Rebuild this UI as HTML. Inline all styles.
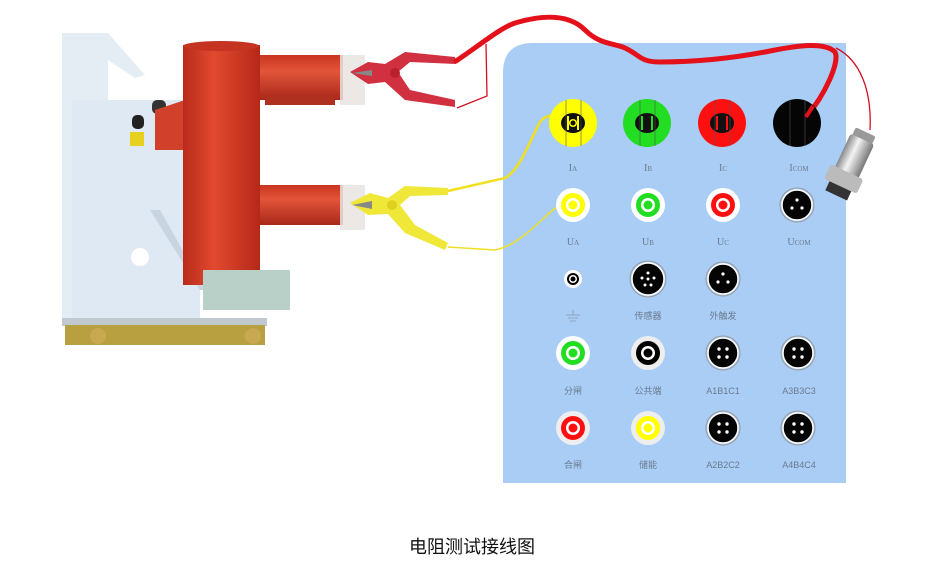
<!DOCTYPE html>
<html><head><meta charset="utf-8"><style>
html,body{margin:0;padding:0;background:#fff;width:940px;height:566px;overflow:hidden}
svg{display:block}
.l{font-family:"Liberation Serif","Noto Serif CJK SC",serif;font-size:10px;fill:#6a7a90;text-anchor:middle}
.c{font-family:"Liberation Sans","Noto Sans CJK SC",sans-serif;font-size:9px;fill:#6a7a90;text-anchor:middle}
</style></head><body>
<svg width="940" height="566" viewBox="0 0 940 566" xmlns="http://www.w3.org/2000/svg">
<defs>
<linearGradient id="red" x1="0" x2="1"><stop offset="0" stop-color="#b82a1a"/><stop offset=".4" stop-color="#e24a30"/><stop offset="1" stop-color="#b52818"/></linearGradient>
<linearGradient id="redh" x1="0" y1="0" x2="0" y2="1"><stop offset="0" stop-color="#c83420"/><stop offset=".35" stop-color="#e2553a"/><stop offset="1" stop-color="#a8281a"/></linearGradient>
<linearGradient id="met" x1="0" x2="1"><stop offset="0" stop-color="#888"/><stop offset=".4" stop-color="#f4f4f4"/><stop offset="1" stop-color="#777"/></linearGradient>
</defs>
<!-- panel -->
<path d="M533 43 H846 V483 H503 V73 Q503 43 533 43 Z" fill="#a9cdf5"/>
<!-- breaker frame -->
<path d="M62 33 H108 L145 75 L135 78 L108 60 V320 H62 Z" fill="#e4ecf4"/>
<rect x="72" y="100" width="128" height="218" fill="#dfe9f4"/>
<path d="M150 210 L200 290 H205 L160 210Z" fill="#c8d4e0"/>
<circle cx="140" cy="257" r="9" fill="#fff"/>
<rect x="132" y="115" width="12" height="14" rx="5" fill="#222"/>
<rect x="130" y="132" width="14" height="14" fill="#e8d020"/>
<rect x="152" y="100" width="14" height="14" rx="5" fill="#333"/>
<path d="M155 110 L185 100 V150 H155 Z" fill="#d0402a"/>
<rect x="62" y="318" width="205" height="8" fill="#c0c8d0"/>
<rect x="65" y="325" width="200" height="20" fill="#b8a040"/>
<circle cx="98" cy="336" r="8" fill="#c8a850"/><circle cx="253" cy="336" r="8" fill="#c8a850"/>
<!-- cylinders -->
<rect x="258" y="55" width="85" height="45" fill="url(#redh)"/>
<rect x="265" y="95" width="70" height="10" fill="#b03020"/>
<rect x="258" y="185" width="85" height="40" fill="url(#redh)"/>
<rect x="183" y="45" width="77" height="240" fill="url(#red)"/>
<ellipse cx="221" cy="46" rx="38" ry="5" fill="#c43420"/>
<rect x="203" y="270" width="87" height="40" fill="#b8d0c8"/>
<rect x="340" y="55" width="25" height="50" fill="#e8e4e0" opacity=".85"/>
<rect x="340" y="185" width="25" height="45" fill="#e8e4e0" opacity=".85"/>
<!-- red clamp -->
<path d="M350 72 L368 62 L385 64 L405 52 L455 57 L456 64 L410 62 L398 72 L410 90 L455 100 L455 107 L405 100 L385 82 L368 84 Z" fill="#d03040"/>
<circle cx="395" cy="73" r="5" fill="#b82030"/>
<path d="M352 73 L372 70 L372 76Z" fill="#888"/>
<!-- yellow clamp -->
<path d="M350 203 L370 193 L388 198 L405 186 L448 188 L448 195 L410 196 L400 205 L415 225 L448 243 L445 250 L405 233 L388 214 L368 215 Z" fill="#f0e838"/>
<circle cx="392" cy="205" r="5" fill="#e0d020"/>
<path d="M352 205 L372 201 L372 209Z" fill="#888"/>
<!-- wires -->
<path d="M456 61 C480 45 500 28 515 23 C545 14 570 15 585 30 C600 45 615 43 625 48 C640 55 640 62 660 62 C700 62 740 57 770 51 C800 45 825 42 835 52 C840 62 825 95 806 117" fill="none" stroke="#e4101a" stroke-width="5" stroke-linecap="round"/>
<path d="M486 44 L487 96 L457 108" fill="none" stroke="#d01020" stroke-width="1.3"/>
<path d="M836 48 C860 60 872 90 870 130" fill="none" stroke="#d01020" stroke-width="1.3"/>
<path d="M448 191 L505 178 C520 170 530 140 540 122 C548 112 560 115 570 124" fill="none" stroke="#f0e020" stroke-width="2.5"/>
<path d="M448 247 L495 250 C520 245 540 220 553 210 C560 204 565 204 572 205" fill="none" stroke="#f0e020" stroke-width="1.5"/>
<!-- metal connector -->
<g transform="rotate(25 848 170)">
<rect x="835" y="135" width="26" height="40" rx="4" fill="url(#met)"/>
<rect x="830" y="172" width="36" height="16" rx="3" fill="#bbb"/>
<rect x="836" y="188" width="24" height="10" fill="#333"/>
<rect x="837" y="128" width="22" height="8" rx="2" fill="#999"/>
</g>
<!-- row1 -->
<g>
<circle cx="573" cy="123" r="24" fill="#ffff00"/><circle cx="647" cy="123" r="24" fill="#22dd22"/><circle cx="722" cy="123" r="24" fill="#ff1010"/><circle cx="797" cy="123" r="24" fill="#050505"/>
<g fill="#111"><ellipse cx="573" cy="123" rx="12" ry="10"/><ellipse cx="647" cy="123" rx="12" ry="10"/><ellipse cx="722" cy="123" rx="12" ry="10"/></g>
<g fill="#ffff00"><rect x="567" y="116" width="2" height="14"/><rect x="577" y="116" width="2" height="14"/><circle cx="573" cy="123" r="4" fill="#ffff00"/><circle cx="573" cy="123" r="2.5" fill="#111"/></g>
<g fill="#22dd22"><rect x="641" y="116" width="2" height="14"/><rect x="651" y="116" width="2" height="14"/></g><circle cx="647" cy="123" r="3" fill="#111"/>
<g fill="#ff1010"><rect x="716" y="116" width="2" height="14"/><rect x="726" y="116" width="2" height="14"/></g>
<g stroke="#555" stroke-width=".6"><line x1="566" y1="100" x2="566" y2="146"/><line x1="581" y1="100" x2="581" y2="146"/><line x1="640" y1="100" x2="640" y2="146"/><line x1="655" y1="100" x2="655" y2="146"/><line x1="715" y1="100" x2="715" y2="146"/><line x1="730" y1="100" x2="730" y2="146"/><line x1="790" y1="100" x2="790" y2="146"/><line x1="805" y1="100" x2="805" y2="146"/></g>
<path d="M806 117 L813 106" stroke="#e4101a" stroke-width="4"/>
</g>
<text class="l" x="573" y="171">I<tspan font-size="7">A</tspan></text>
<text class="l" x="648" y="171">I<tspan font-size="7">B</tspan></text>
<text class="l" x="723" y="171">I<tspan font-size="7">C</tspan></text>
<text class="l" x="799" y="171">I<tspan font-size="7">COM</tspan></text>
<!-- jack template -->
<g>
<circle cx="573" cy="205" r="17" fill="#fff"/><circle cx="573" cy="205" r="12" fill="#ffff00"/><circle cx="573" cy="205" r="7" fill="#fff"/><circle cx="573" cy="205" r="4.5" fill="#ffff00"/>
<circle cx="648" cy="205" r="17" fill="#fff"/><circle cx="648" cy="205" r="12" fill="#22dd22"/><circle cx="648" cy="205" r="7" fill="#fff"/><circle cx="648" cy="205" r="4.5" fill="#22dd22"/>
<circle cx="723" cy="205" r="17" fill="#fff"/><circle cx="723" cy="205" r="12" fill="#ff1010"/><circle cx="723" cy="205" r="7" fill="#fff"/><circle cx="723" cy="205" r="4.5" fill="#ff1010"/>
<circle cx="573" cy="353" r="17" fill="#fff"/><circle cx="573" cy="353" r="12" fill="#22dd22"/><circle cx="573" cy="353" r="7" fill="#fff"/><circle cx="573" cy="353" r="4.5" fill="#22dd22"/>
<circle cx="648" cy="353" r="17" fill="#eee"/><circle cx="648" cy="353" r="12" fill="#000"/><circle cx="648" cy="353" r="7" fill="#fff"/><circle cx="648" cy="353" r="4.5" fill="#000"/>
<circle cx="573" cy="428" r="17" fill="#eee"/><circle cx="573" cy="428" r="12" fill="#ff1010"/><circle cx="573" cy="428" r="7" fill="#fff"/><circle cx="573" cy="428" r="4.5" fill="#ff1010"/>
<circle cx="648" cy="428" r="17" fill="#eee"/><circle cx="648" cy="428" r="12" fill="#ffff00"/><circle cx="648" cy="428" r="7" fill="#fff"/><circle cx="648" cy="428" r="4.5" fill="#ffff00"/>
<circle cx="573" cy="279" r="9" fill="#fff"/><circle cx="573" cy="279" r="6" fill="#000"/><circle cx="573" cy="279" r="4" fill="#fff"/><circle cx="573" cy="279" r="2.5" fill="#000"/>
</g>
<!-- aviation connectors -->
<g fill="#050505" stroke="#fff" stroke-width="1.5">
<circle cx="797" cy="205" r="15"/><circle cx="648" cy="279" r="16"/><circle cx="723" cy="279" r="15"/>
<circle cx="723" cy="353" r="15"/><circle cx="798" cy="353" r="15"/><circle cx="723" cy="428" r="15"/><circle cx="798" cy="428" r="15"/>
</g>
<g fill="none" stroke="#999" stroke-width="1"><circle cx="797" cy="205" r="17"/><circle cx="648" cy="279" r="18"/><circle cx="723" cy="279" r="17"/><circle cx="723" cy="353" r="17"/><circle cx="798" cy="353" r="17"/><circle cx="723" cy="428" r="17"/><circle cx="798" cy="428" r="17"/></g>
<g fill="#fff">
<circle cx="797" cy="200" r="1.6"/><circle cx="792" cy="208" r="1.6"/><circle cx="802" cy="208" r="1.6"/>
<circle cx="723" cy="274" r="1.6"/><circle cx="718" cy="282" r="1.6"/><circle cx="728" cy="282" r="1.6"/>
<circle cx="648" cy="273" r="1.5"/><circle cx="642" cy="278" r="1.5"/><circle cx="654" cy="278" r="1.5"/><circle cx="645" cy="285" r="1.5"/><circle cx="651" cy="285" r="1.5"/><circle cx="648" cy="279" r="1.5"/>
<circle cx="719" cy="349" r="1.7"/><circle cx="727" cy="349" r="1.7"/><circle cx="719" cy="357" r="1.7"/><circle cx="727" cy="357" r="1.7"/>
<circle cx="794" cy="349" r="1.7"/><circle cx="802" cy="349" r="1.7"/><circle cx="794" cy="357" r="1.7"/><circle cx="802" cy="357" r="1.7"/>
<circle cx="719" cy="424" r="1.7"/><circle cx="727" cy="424" r="1.7"/><circle cx="719" cy="432" r="1.7"/><circle cx="727" cy="432" r="1.7"/>
<circle cx="794" cy="424" r="1.7"/><circle cx="802" cy="424" r="1.7"/><circle cx="794" cy="432" r="1.7"/><circle cx="802" cy="432" r="1.7"/>
</g>
<text class="l" x="573" y="245">U<tspan font-size="7">A</tspan></text>
<text class="l" x="648" y="245">U<tspan font-size="7">B</tspan></text>
<text class="l" x="723" y="245">U<tspan font-size="7">C</tspan></text>
<text class="l" x="799" y="245">U<tspan font-size="7">COM</tspan></text>
<g stroke="#8a9ab0" stroke-width=".8"><line x1="573" y1="310" x2="573" y2="315"/><line x1="566" y1="315" x2="580" y2="315"/><line x1="568" y1="318" x2="578" y2="318"/><line x1="570" y1="321" x2="576" y2="321"/></g>
<text class="c" x="648" y="319">传感器</text>
<text class="c" x="723" y="319">外触发</text>
<text class="c" x="573" y="394">分闸</text>
<text class="c" x="648" y="394">公共端</text>
<text class="c" x="723" y="394">A1B1C1</text>
<text class="c" x="799" y="394">A3B3C3</text>
<text class="c" x="573" y="468">合闸</text>
<text class="c" x="648" y="468">储能</text>
<text class="c" x="723" y="468">A2B2C2</text>
<text class="c" x="799" y="468">A4B4C4</text>
<text x="472" y="553" text-anchor="middle" font-family="'Liberation Sans','Noto Sans CJK SC',sans-serif" font-size="18" fill="#111">电阻测试接线图</text>
</svg>
</body></html>
